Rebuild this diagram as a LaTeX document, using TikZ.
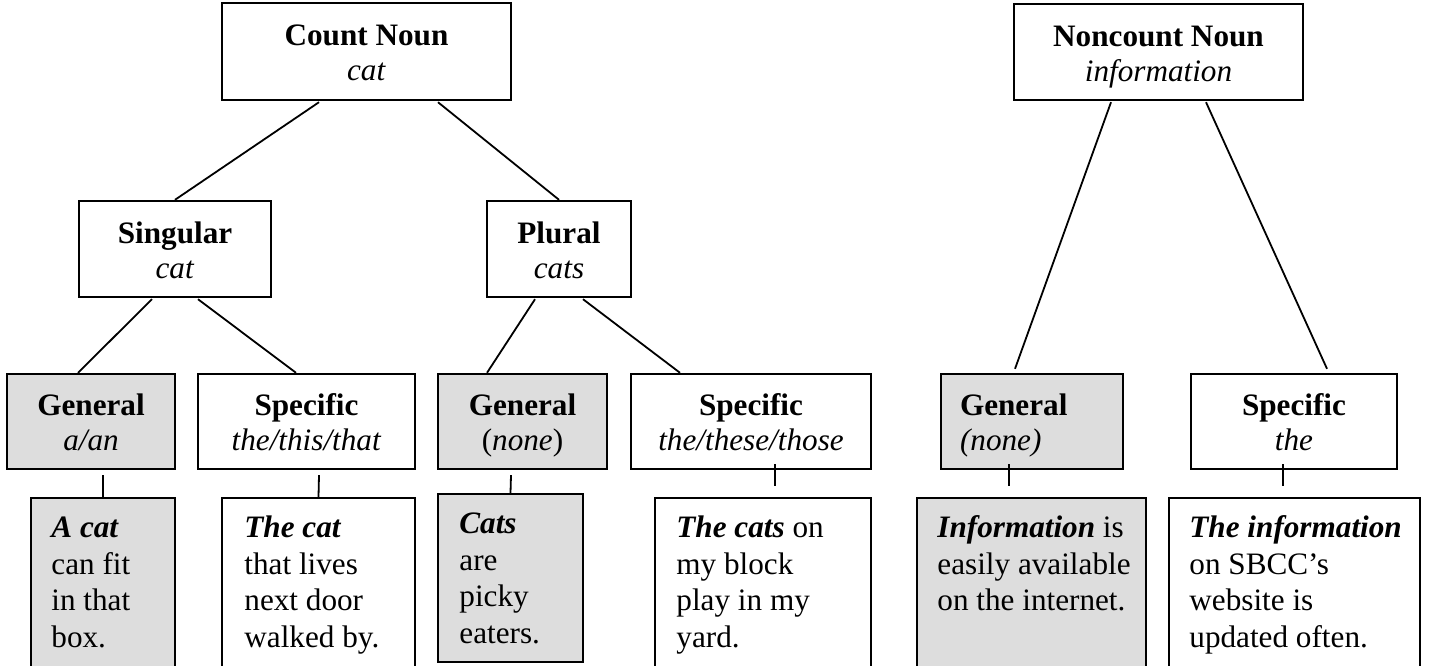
\documentclass[tikz,border=0pt]{standalone}
\usepackage{fontspec}
\setmainfont{Liberation Serif}
\usetikzlibrary{calc}
\definecolor{boxgray}{RGB}{221,221,221}
\newcommand\hdtext[2]{\rule{0pt}{13pt}\textbf{#1}\\\smash{#2}\rule[-1.5pt]{0pt}{1.5pt}}
\begin{document}
\begin{tikzpicture}[x=0.5pt,y=-0.5pt,
  every node/.style={font=\fontsize{15.6}{18.35}\selectfont},
  box/.style={draw, line width=1.2pt, rectangle, align=center, inner sep=0pt, font=\fontsize{15.6}{17.5}\selectfont},
  gbox/.style={box, fill=boxgray},
  txt/.style={anchor=north west, inner sep=0pt, align=left},
  conn/.style={line width=0.9pt}]
\path[use as bounding box] (0,0) rectangle (1450,665);
\clip (0,0) rectangle (1450,665);
% top level
\node[box, minimum width=144.5pt, minimum height=48.5pt] (cn) at (366.5,51.5) {\hdtext{Count Noun}{\textit{cat}}};
\node[box, minimum width=144.5pt, minimum height=48pt] (nn) at (1158.5,52) {\hdtext{Noncount Noun}{\textit{information}}};
% second level
\node[box, minimum width=96pt, minimum height=48pt] (sg) at (175,249) {\hdtext{Singular}{\textit{cat}}};
\node[box, minimum width=72pt, minimum height=48pt] (pl) at (559,249) {\hdtext{Plural}{\textit{cats}}};
% third level
\node[gbox, minimum width=84pt, minimum height=47.5pt] (g1) at (91,421.5) {\hdtext{General}{\textit{a/an}}};
\node[box, minimum width=108.5pt, minimum height=47.5pt] (s1) at (306.5,421.5) {\hdtext{Specific}{\textit{the/this/that}}};
\node[gbox, minimum width=84.5pt, minimum height=47.5pt] (g2) at (522.5,421.5) {\hdtext{General}{(\textit{none})}};
\node[box, minimum width=120pt, minimum height=47.5pt] (s2) at (751,421.5) {\hdtext{Specific}{\textit{the/these/those}}};
\node[gbox, minimum width=91pt, minimum height=47.5pt, text width=72pt, inner xsep=9.5pt, align=left] (g3) at (1032,421.5) {\hdtext{General}{\textit{(none)}}};
\node[box, minimum width=103pt, minimum height=47.5pt] (s3) at (1294,421.5) {\hdtext{Specific}{\textit{the}}};
% leaves
\node[gbox, minimum width=72pt, minimum height=101pt] (l1) at (103,599) {};
\node[box, minimum width=96.5pt, minimum height=101pt] (l2) at (318.5,599) {};
\node[gbox, minimum width=72.5pt, minimum height=84pt] (l3) at (510.5,578) {};
\node[box, minimum width=108pt, minimum height=101pt] (l4) at (763,599) {};
\node[gbox, minimum width=114.5pt, minimum height=101pt] (l5) at (1031.5,599) {};
\node[box, minimum width=125.5pt, minimum height=101pt] (l6) at (1294.5,599) {};
\node[txt] (t1) at (51,513) {\rule{0pt}{12pt}\textbf{\textit{A cat}}\\can fit\\in that\\box.};
\node[txt] (t2) at (244,513) {\rule{0pt}{12pt}\textbf{\textit{The cat}}\\that lives\\next door\\walked by.};
\node[txt] (t3) at (459,509) {\rule{0pt}{12pt}\textbf{\textit{Cats}}\\are\\picky\\eaters.};
\node[txt] (t4) at (676,513) {\rule{0pt}{12pt}\textbf{\textit{The cats}} on\\my block\\play in my\\yard.};
\node[txt] (t5) at (937,513) {\rule{0pt}{12pt}\textbf{\textit{Information}} is\\easily available\\on the internet.};
\node[txt] (t6) at (1189,513) {\rule{0pt}{12pt}\textbf{\textit{The information}}\\on SBCC’s\\website is\\updated often.};
% connectors
\draw[conn] ($(cn.south)+(-47.5,1)$) -- (sg.north);
\draw[conn] ($(cn.south)+(71.5,1)$) -- (pl.north);
\draw[conn] ($(sg.south)+(-23,1)$) -- ($(g1.north)+(-13,0)$);
\draw[conn] ($(sg.south)+(23,1)$) -- ($(s1.north)+(-10.5,0)$);
\draw[conn] ($(pl.south)+(-24,1)$) -- ($(g2.north)+(-35.5,0)$);
\draw[conn] ($(pl.south)+(24,1)$) -- ($(s2.north)+(-71,0)$);
\draw[conn] ($(nn.south)+(-47.5,1)$) -- ($(g3.north)+(-17,-4)$);
\draw[conn] ($(nn.south)+(47.5,1)$) -- ($(s3.north)+(33,-4)$);
\draw[conn] ($(g1.south)+(12,5)$) -- (l1.north);
\draw[conn] ($(s1.south)+(12.5,5)$) -- (l2.north);
\draw[conn] ($(g2.south)+(-11.5,5)$) -- (l3.north);
\draw[conn] ($(s2.south)+(24,-6)$) -- ($(l4.north)+(12,-11)$);
\draw[conn] ($(g3.south)+(-23,-6)$) -- ($(l5.north)+(-22.5,-11)$);
\draw[conn] ($(s3.south)+(-11,-6)$) -- ($(l6.north)+(-11.5,-11)$);
\end{tikzpicture}
\end{document}
